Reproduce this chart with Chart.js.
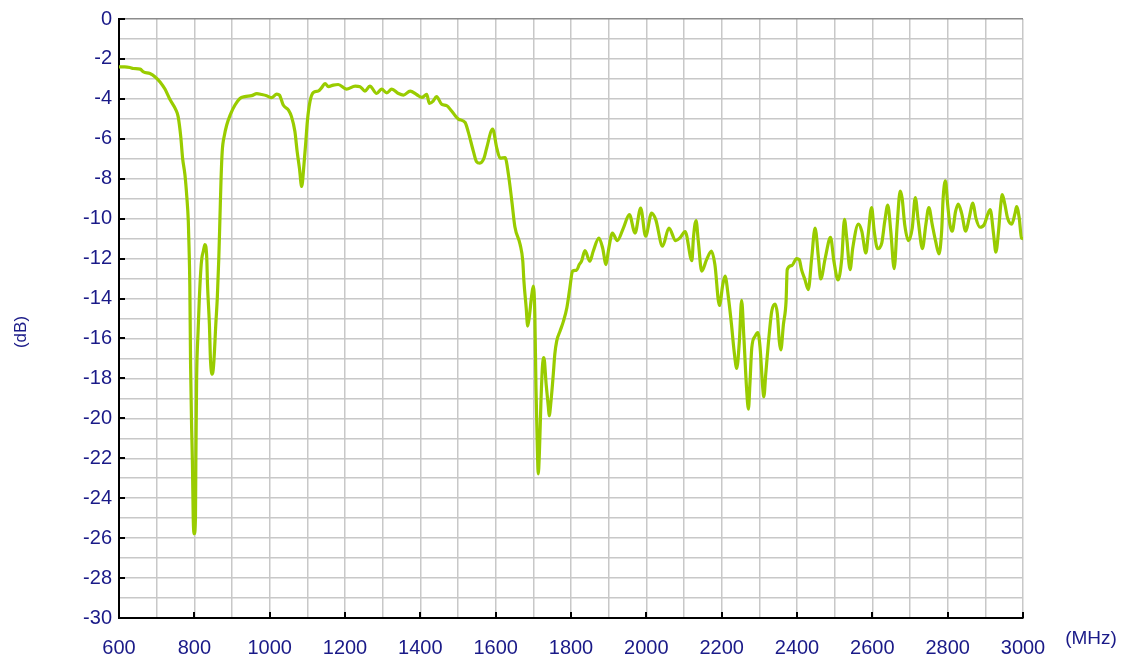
<!DOCTYPE html>
<html>
<head>
<meta charset="utf-8">
<script src="https://cdn.jsdelivr.net/npm/chart.js@4/dist/chart.umd.min.js"></script>
<style>
html,body{margin:0;padding:0;background:#fff;}
#wrap{width:1127px;height:662px;position:relative;}
</style>
</head>
<body>
<div id="wrap"><canvas id="c" width="1127" height="662"></canvas></div>
<script>
const freqMHz = [600,615,629,638,656,665,682,696,709,722,735,751,757,764,769,775,780,784,786,788,790,793,795,797,800,803,804,806,810,813,817,820,824,828,833,835,840,843,848,852,857,861,865,868,871,874,880,886,895,908,921,934,952,966,979,992,1005,1019,1026,1036,1050,1058,1067,1073,1079,1085,1091,1096,1100,1107,1116,1129,1138,1147,1156,1169,1182,1204,1227,1240,1253,1266,1284,1297,1311,1324,1342,1355,1373,1390,1404,1417,1424,1434,1443,1457,1470,1483,1501,1519,1527,1541,1549,1558,1569,1576,1592,1603,1612,1625,1634,1643,1651,1665,1672,1675,1681,1685,1689,1696,1700,1704,1707,1711,1713,1716,1720,1724,1728,1734,1740,1742,1747,1753,1757,1762,1771,1780,1789,1797,1804,1815,1822,1828,1837,1850,1859,1874,1884,1893,1899,1910,1923,1939,1955,1970,1985,1998,2014,2025,2043,2060,2078,2089,2103,2121,2125,2132,2138,2147,2160,2173,2182,2194,2203,2209,2218,2226,2233,2240,2247,2253,2259,2266,2271,2275,2280,2289,2296,2302,2309,2312,2317,2327,2333,2342,2348,2353,2357,2364,2371,2374,2386,2399,2406,2412,2421,2430,2439,2448,2457,2463,2475,2489,2498,2509,2519,2526,2532,2541,2548,2563,2572,2583,2589,2598,2605,2614,2625,2633,2641,2649,2658,2666,2674,2679,2686,2696,2706,2714,2722,2733,2742,2750,2759,2768,2777,2784,2788,2794,2800,2806,2812,2821,2828,2837,2848,2857,2867,2875,2886,2897,2906,2913,2922,2928,2935,2941,2945,2952,2959,2970,2979,2983,2990,2996,3000];
const gainDB = [-2.40,-2.40,-2.43,-2.48,-2.51,-2.65,-2.73,-2.90,-3.15,-3.51,-4.02,-4.55,-4.89,-5.90,-7.00,-7.79,-8.90,-10.13,-11.47,-13.30,-17.29,-20.62,-22.28,-24.95,-25.78,-24.95,-22.28,-18.12,-15.63,-14.13,-12.63,-11.97,-11.63,-11.30,-11.97,-13.30,-15.29,-17.12,-17.79,-17.12,-15.29,-13.96,-11.97,-9.97,-7.97,-6.64,-5.81,-5.31,-4.81,-4.31,-3.98,-3.89,-3.84,-3.74,-3.78,-3.84,-3.94,-3.76,-3.81,-4.31,-4.56,-4.89,-5.64,-6.64,-7.47,-8.39,-7.30,-6.14,-5.14,-4.14,-3.68,-3.61,-3.44,-3.23,-3.39,-3.31,-3.28,-3.51,-3.36,-3.39,-3.61,-3.36,-3.73,-3.51,-3.70,-3.51,-3.73,-3.81,-3.61,-3.78,-3.93,-3.78,-4.23,-4.11,-3.89,-4.28,-4.34,-4.61,-5.01,-5.18,-5.64,-6.64,-7.14,-7.22,-6.97,-6.47,-5.51,-6.47,-6.97,-6.94,-7.80,-9.14,-10.40,-11.30,-12.13,-13.13,-14.46,-15.38,-14.96,-13.79,-13.38,-14.79,-18.46,-21.78,-22.78,-21.78,-19.29,-17.46,-16.96,-18.29,-19.46,-19.87,-19.12,-17.79,-16.79,-16.13,-15.63,-15.13,-14.46,-13.46,-12.63,-12.58,-12.30,-12.13,-11.60,-12.13,-11.63,-10.97,-11.47,-12.30,-11.63,-10.72,-11.10,-10.47,-9.80,-10.72,-9.47,-10.88,-9.72,-10.05,-11.38,-10.47,-11.10,-10.97,-10.65,-12.10,-10.97,-10.10,-11.13,-12.63,-12.05,-11.63,-12.30,-14.35,-13.30,-12.88,-13.96,-15.29,-16.63,-17.50,-16.13,-14.09,-15.96,-18.46,-19.54,-18.29,-16.46,-15.88,-15.71,-16.46,-18.46,-18.92,-17.79,-15.63,-14.63,-14.28,-14.79,-16.13,-16.57,-15.29,-14.13,-12.55,-12.35,-12.00,-12.05,-12.55,-13.05,-13.55,-11.97,-10.47,-11.97,-13.02,-11.97,-10.93,-12.13,-13.07,-11.97,-10.03,-10.97,-12.55,-11.47,-10.27,-10.63,-11.72,-10.80,-9.44,-10.63,-11.50,-11.22,-10.13,-9.32,-10.63,-12.50,-10.30,-8.62,-8.97,-10.30,-11.10,-10.47,-8.94,-10.13,-11.50,-10.30,-9.44,-10.30,-11.13,-11.77,-10.63,-8.97,-8.10,-9.30,-10.30,-10.63,-9.64,-9.27,-9.72,-10.63,-9.97,-9.22,-9.97,-10.43,-10.30,-9.80,-9.55,-10.80,-11.68,-10.63,-9.30,-8.80,-9.30,-9.97,-10.27,-9.72,-9.39,-9.97,-10.97,-11.00];
const xRange = [600, 3000];
const yRange = [-30, 0];
const xTickStep = 100, xLabelStep = 200;
const yTickStep = 1, yLabelStep = 2;
const xUnit = '(MHz)';
const yUnit = '(dB)';

const labelColor = '#1a1a88';
const gridColor = '#c8c8c8';
const points = freqMHz.map((f, i) => ({x: f, y: gainDB[i]}));

const extras = {
  id: 'extras',
  afterDraw(chart) {
    const ctx = chart.ctx;
    const xs = chart.scales.x, ys = chart.scales.y;
    const a = chart.chartArea;
    ctx.save();
    ctx.strokeStyle = '#000';
    ctx.lineWidth = 2;
    ctx.beginPath();
    for (let v = yRange[0]; v <= yRange[1]; v += yLabelStep) {
      const p = Math.round(ys.getPixelForValue(v));
      ctx.moveTo(a.left, p); ctx.lineTo(a.left + 6, p);
    }
    for (let v = xRange[0]; v <= xRange[1]; v += xLabelStep) {
      const p = Math.round(xs.getPixelForValue(v));
      ctx.moveTo(p, a.bottom); ctx.lineTo(p, a.bottom - 6);
    }
    ctx.stroke();
    ctx.fillStyle = labelColor;
    ctx.font = '19px "Liberation Sans", Arial, sans-serif';
    ctx.textAlign = 'center';
    ctx.textBaseline = 'middle';
    ctx.fillText(xUnit, 1091, 639);
    ctx.translate(21, 332);
    ctx.rotate(-Math.PI / 2);
    ctx.font = '17px "Liberation Sans", Arial, sans-serif';
    ctx.fillText(yUnit, 0, 0);
    ctx.restore();
  }
};

new Chart(document.getElementById('c'), {
  type: 'line',
  data: {
    datasets: [{
      data: points,
      borderColor: '#99cc00',
      borderWidth: 3.2,
      pointRadius: 0,
      cubicInterpolationMode: 'monotone',
      fill: false
    }]
  },
  options: {
    responsive: false,
    animation: false,
    events: [],
    layout: {padding: {left: 0, top: 17, right: 104, bottom: 0}},
    plugins: {legend: {display: false}, tooltip: {enabled: false}},
    scales: {
      x: {
        type: 'linear',
        min: xRange[0], max: xRange[1],
        afterFit: s => { s.height = 44; },
        grid: {
          color: gridColor, lineWidth: 1.5, drawTicks: false
        },
        border: {display: true, color: '#000', width: 2},
        ticks: {
          stepSize: xTickStep, autoSkip: false, maxRotation: 0,
          padding: 18, color: labelColor,
          font: {family: '"Liberation Sans", Arial, sans-serif', size: 20},
          callback: v => (v % xLabelStep === 0 ? String(v) : '')
        }
      },
      y: {
        min: yRange[0], max: yRange[1],
        afterFit: s => { s.width = 119; },
        grid: {
          color: c => (c.tick && c.tick.value === 0 ? '#8c8c8c' : gridColor),
          lineWidth: 1.5, drawTicks: false
        },
        border: {display: true, color: '#000', width: 2},
        ticks: {
          stepSize: yTickStep, autoSkip: false,
          padding: 7, color: labelColor,
          font: {family: '"Liberation Sans", Arial, sans-serif', size: 20},
          callback: v => (v % yLabelStep === 0 ? String(v) : '')
        }
      }
    }
  },
  plugins: [extras]
});
</script>
</body>
</html>
